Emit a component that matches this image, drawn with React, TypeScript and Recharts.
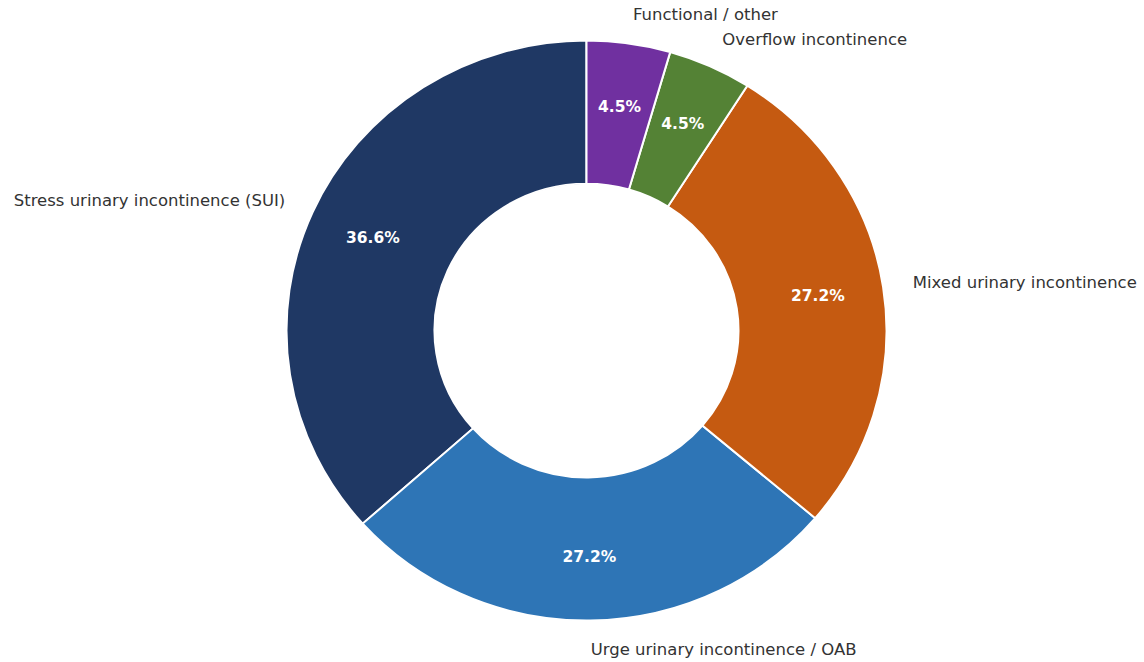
import React from 'react';
import { PieChart, Pie, Cell } from 'recharts';

const categories = [
  'Stress urinary incontinence (SUI)',
  'Urge urinary incontinence / OAB',
  'Mixed urinary incontinence',
  'Overflow incontinence',
  'Functional / other',
];
const shares = [36.6, 27.2, 27.2, 4.5, 4.5];
const colors = ['#1f3864', '#2e75b6', '#c55a11', '#548235', '#7030a0'];

const data = categories.map((name, i) => ({ name, value: shares[i] }));

const RADIAN = Math.PI / 180;
const FONT = '"DejaVu Sans", sans-serif';

// outer name at 1.1 x radius, percentage at 0.78 x radius (matplotlib style)
const renderLabel = (props: any) => {
  const { cx, cy, midAngle, outerRadius, name, value } = props;
  const cos = Math.cos(-midAngle * RADIAN);
  const sin = Math.sin(-midAngle * RADIAN);
  const lx = cx + outerRadius * 1.1 * cos;
  const ly = cy + outerRadius * 1.1 * sin;
  const px = cx + outerRadius * 0.78 * cos;
  const py = cy + outerRadius * 0.78 * sin;
  return (
    <g>
      <text
        x={lx}
        y={ly}
        fill="#333333"
        fontSize={16.5}
        fontFamily={FONT}
        textAnchor={cos >= 0 ? 'start' : 'end'}
        dominantBaseline="central"
      >
        {name}
      </text>
      <text
        x={px}
        y={py}
        fill="#ffffff"
        fontSize={15.5}
        fontWeight="bold"
        fontFamily={FONT}
        textAnchor="middle"
        dominantBaseline="central"
      >
        {value.toFixed(1) + '%'}
      </text>
    </g>
  );
};

export default function App() {
  return (
    <div
      style={{
        position: 'absolute',
        left: 0,
        top: 0,
        width: 1144,
        height: 685,
        transform: 'scaleY(0.9665)',
        transformOrigin: '0 0',
        background: '#fff',
      }}
    >
      <PieChart width={1144} height={685} margin={{ top: 0, right: 0, bottom: 0, left: 0 }}>
        <Pie
          data={data}
          dataKey="value"
          nameKey="name"
          cx={586.5}
          cy={342}
          innerRadius={152}
          outerRadius={300}
          startAngle={90}
          endAngle={450}
          stroke="#ffffff"
          strokeWidth={2}
          label={renderLabel}
          labelLine={false}
          isAnimationActive={false}
        >
          {data.map((d, i) => (
            <Cell key={d.name} fill={colors[i]} />
          ))}
        </Pie>
      </PieChart>
    </div>
  );
}
